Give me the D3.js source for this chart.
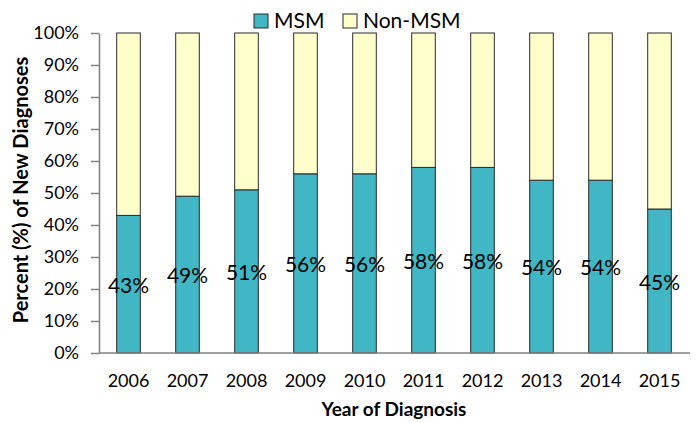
<!DOCTYPE html>
<html>
<head>
<meta charset="utf-8">
<script src="https://cdn.jsdelivr.net/npm/d3@7"></script>
<style>
  html, body { margin: 0; padding: 0; background: #fff; }
  svg text { font-family: Lato, "Open Sans", sans-serif; fill: #000; }
</style>
</head>
<body>
<svg id="chart" width="696" height="423"></svg>
<script>
// Share of new diagnoses by year, MSM vs. non-MSM
const years = ["2006", "2007", "2008", "2009", "2010", "2011", "2012", "2013", "2014", "2015"];
const msm = [43, 49, 51, 56, 56, 58, 58, 54, 54, 45];
const nonMsm = msm.map(v => 100 - v);
const yTicks = [0, 10, 20, 30, 40, 50, 60, 70, 80, 90, 100];
const seriesNames = ["MSM", "Non-MSM"];
const seriesColors = ["#41B6C4", "#FFFFCC"];

const svg = d3.select("#chart");
const margin = { left: 99, right: 7, top: 33, bottom: 70 };
const W = 696, H = 423;

const x = d3.scaleBand().domain(years).range([margin.left, W - margin.right]).paddingInner(0.6).paddingOuter(0.3);
const y = d3.scaleLinear().domain([0, 100]).range([H - margin.bottom, margin.top]);

const rows = years.map((yr, i) => ({ year: yr, MSM: msm[i], "Non-MSM": nonMsm[i] }));
const stack = d3.stack().keys(seriesNames)(rows);
const color = d3.scaleOrdinal().domain(seriesNames).range(seriesColors);

// stacked bars
svg.append("g").selectAll("g").data(stack).join("g")
  .attr("fill", d => color(d.key))
  .selectAll("rect").data(d => d).join("rect")
  .attr("x", d => x(d.data.year))
  .attr("width", x.bandwidth())
  .attr("y", d => y(d[1]))
  .attr("height", d => y(d[0]) - y(d[1]))
  .attr("stroke", "#2a2a2a")
  .attr("stroke-width", 1);

// y axis
const yAxis = svg.append("g")
  .attr("transform", `translate(${margin.left},0)`)
  .call(d3.axisLeft(y).tickValues(yTicks).tickFormat(d => d + "%").tickSize(8).tickPadding(12).tickSizeOuter(0));
yAxis.select(".domain").attr("stroke", "#7f7f7f").attr("stroke-width", 1.5);
yAxis.selectAll(".tick line").attr("stroke", "#7f7f7f").attr("stroke-width", 1.5);
yAxis.selectAll(".tick text").style("font-size", "18px").attr("fill", "#000");

// x axis
const xAxis = svg.append("g")
  .attr("transform", `translate(0,${y(0)})`)
  .call(d3.axisBottom(x).tickSize(0).tickPadding(21).tickSizeOuter(0));
xAxis.select(".domain").attr("stroke", "#7f7f7f").attr("stroke-width", 1.5)
  .attr("d", `M${margin.left},0H${W - 6}`);
xAxis.selectAll(".tick text").style("font-size", "18px").attr("fill", "#000");

// value labels in the MSM segment
svg.append("g").selectAll("text").data(rows).join("text")
  .attr("x", d => x(d.year) + x.bandwidth() / 2)
  .attr("y", d => y(d.MSM / 2))
  .attr("text-anchor", "middle")
  .attr("dominant-baseline", "central")
  .style("font-size", "21px")
  .text(d => d.MSM + "%");

// axis titles
svg.append("text")
  .attr("x", (margin.left + W - margin.right) / 2)
  .attr("y", 416)
  .attr("text-anchor", "middle")
  .style("font-size", "19px").style("font-weight", "bold")
  .text("Year of Diagnosis");

svg.append("text")
  .attr("transform", `translate(28,${(y(0) + y(100)) / 2 - 3}) rotate(-90)`)
  .attr("text-anchor", "middle")
  .style("font-size", "20px").style("font-weight", "bold")
  .text("Percent (%) of New Diagnoses");

// legend
const legendX = [254, 343];
const legend = svg.append("g").selectAll("g").data(seriesNames).join("g")
  .attr("transform", (d, i) => `translate(${legendX[i]},14)`);
legend.append("rect")
  .attr("width", 14).attr("height", 14)
  .attr("fill", d => color(d))
  .attr("stroke", "#2a2a2a").attr("stroke-width", 1);
legend.append("text")
  .attr("x", 20).attr("y", 14)
  .style("font-size", "21px")
  .text(d => d);
</script>
</body>
</html>
